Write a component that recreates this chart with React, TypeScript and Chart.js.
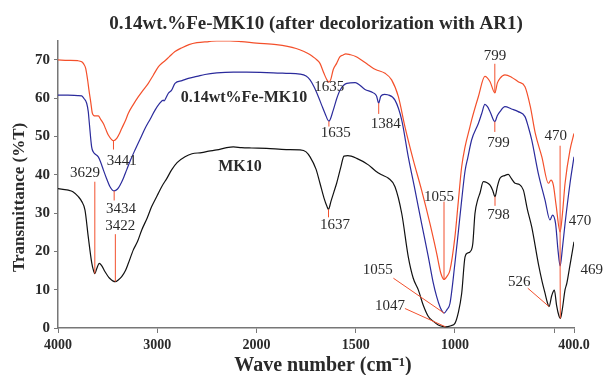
import { useEffect, useRef } from 'react';
import { Chart, registerables } from 'chart.js';

Chart.register(...registerables);

// ---- spectra: wave number (cm-1) and transmittance (%T) ----
const mk10Wn = [
  4000, 3950, 3896, 3850, 3795, 3760, 3728, 3695, 3660, 3640, 3629, 3610, 3584, 3560, 3526, 3480,
  3422, 3390, 3358, 3320, 3291, 3241, 3200, 3156, 3100, 3056, 3000, 2955, 2900, 2855, 2800, 2720,
  2650, 2552, 2480, 2400, 2300, 2233, 2150, 2050, 1949, 1850, 1781, 1750, 1730, 1700, 1680, 1660,
  1645, 1637, 1625, 1610, 1596, 1575, 1559, 1540, 1495, 1436, 1400, 1369, 1335, 1302, 1268, 1235,
  1210, 1184, 1160, 1134, 1110, 1084, 1060, 1047, 1020, 1000, 983, 966, 949, 935, 924, 910,
  899, 885, 874, 857, 840, 823, 810, 798, 786, 773, 750, 731, 715, 697, 675, 655,
  635, 613, 580, 560, 546, 535, 526, 512, 499, 488, 476, 469, 460, 445, 436, 420, 400,
];
const mk10T = [
  36.4, 36.2, 36.0, 35.6, 34.3, 33.0, 30.8, 23.8, 17.0, 14.8, 14.2, 15.5, 16.9, 16.3, 14.7, 13.0,
  12.1, 12.6, 13.4, 15.0, 16.9, 20.4, 22.5, 25.6, 28.8, 31.7, 34.6, 36.9, 39.2, 41.3, 43.2, 44.7,
  45.5, 45.8, 46.2, 46.5, 47.1, 47.3, 47.1, 47.0, 46.9, 46.6, 46.5, 46.0, 44.7, 41.5, 37.8, 34.0,
  31.8, 31.0, 33.0, 35.5, 37.8, 42.0, 44.9, 45.0, 44.3, 42.6, 41.0, 40.0, 39.1, 36.9, 29.9, 18.6,
  13.0, 9.9, 6.0, 3.0, 1.8, 0.8, 0.4, 0.3, 0.6, 1.2, 4.0, 9.0, 18.6, 19.6, 19.9, 22.0,
  29.9, 33.5, 35.2, 38.2, 38.0, 37.3, 36.0, 34.3, 37.0, 39.1, 39.8, 40.1, 39.0, 37.8, 37.5, 36.0,
  31.0, 26.4, 16.9, 12.0, 9.1, 6.8, 5.6, 8.5, 9.9, 6.0, 3.2, 2.5, 4.5, 10.0, 11.7, 16.5, 22.5,
];

const feWn = [
  4000, 3900, 3800, 3761, 3740, 3711, 3695, 3684, 3661, 3645, 3634, 3594, 3570, 3543, 3510, 3476,
  3434, 3400, 3375, 3340, 3308, 3270, 3224, 3170, 3123, 3070, 3022, 2980, 2939, 2930, 2910, 2888,
  2855, 2821, 2750, 2687, 2600, 2519, 2400, 2233, 2100, 1949, 1850, 1781, 1750, 1730, 1710, 1688,
  1670, 1655, 1635, 1613, 1595, 1579, 1545, 1503, 1453, 1411, 1395, 1384, 1374, 1355, 1339, 1302,
  1268, 1235, 1201, 1168, 1134, 1110, 1092, 1075, 1063, 1055, 1040, 1025, 1000, 983, 966, 949,
  935, 916, 882, 865, 849, 836, 823, 799, 786, 773, 748, 715, 681, 647, 630, 613,
  580, 546, 521, 508, 493, 480, 470, 458, 445, 420, 400,
];
const feT = [
  60.8, 60.8, 60.7, 60.6, 60.0, 58.7, 56.5, 53.4, 47.3, 46.0, 45.6, 44.7, 43.3, 41.3, 39.0, 36.9,
  35.8, 36.3, 37.3, 39.2, 41.3, 43.8, 46.5, 49.5, 52.1, 54.6, 56.9, 58.5, 59.5, 59.3, 60.2, 61.3,
  62.1, 63.9, 64.6, 65.2, 65.7, 66.2, 66.6, 66.8, 66.8, 66.7, 66.5, 66.3, 65.8, 64.8, 63.0, 60.4,
  58.0, 56.1, 54.0, 56.9, 60.0, 62.1, 63.9, 64.1, 62.3, 61.4, 60.6, 58.7, 60.5, 61.0, 60.9, 59.5,
  54.3, 44.7, 36.0, 27.3, 18.6, 12.0, 8.2, 5.5, 4.3, 3.9, 4.8, 6.4, 16.9, 25.0, 33.4, 41.0,
  44.5, 49.1, 53.4, 56.0, 58.4, 57.8, 56.5, 53.9, 55.5, 56.5, 57.8, 57.2, 56.5, 55.2, 52.5, 49.1,
  40.4, 33.4, 28.2, 29.5, 27.3, 20.0, 16.2, 21.0, 27.3, 37.8, 44.7,
];

const ar1Wn = [
  4000, 3900, 3800, 3761, 3740, 3721, 3700, 3688, 3670, 3654, 3640, 3627, 3594, 3570, 3543, 3520,
  3493, 3441, 3408, 3380, 3358, 3320, 3291, 3240, 3190, 3140, 3090, 3040, 2989, 2950, 2922, 2880,
  2821, 2750, 2680, 2600, 2480, 2400, 2266, 2150, 2000, 1900, 1800, 1760, 1745, 1720, 1695, 1680,
  1660, 1645, 1635, 1625, 1613, 1596, 1580, 1563, 1550, 1530, 1500, 1436, 1400, 1352, 1319, 1285,
  1252, 1210, 1168, 1126, 1092, 1071, 1055, 1040, 1025, 1000, 983, 966, 949, 924, 916, 882,
  849, 823, 799, 786, 773, 748, 715, 681, 647, 620, 595, 562, 529, 516, 504, 490,
  470, 458, 445, 420, 400,
];
const ar1T = [
  70.0, 69.9, 69.8, 69.5, 68.9, 67.8, 64.5, 62.1, 59.0, 56.1, 55.5, 55.4, 55.4, 54.5, 53.4, 52.0,
  50.4, 48.9, 49.5, 50.8, 52.1, 54.2, 56.1, 58.4, 60.4, 62.2, 63.9, 66.0, 68.2, 69.2, 69.8, 70.8,
  72.2, 73.2, 74.0, 74.5, 74.8, 75.0, 75.0, 74.8, 74.4, 74.0, 73.0, 72.2, 71.8, 71.0, 70.0, 69.1,
  66.5, 64.8, 64.2, 65.0, 67.5, 69.1, 70.8, 71.3, 71.6, 71.4, 70.9, 68.7, 67.5, 66.5, 64.8, 60.4,
  52.6, 43.9, 36.0, 27.3, 19.5, 14.3, 12.7, 13.5, 15.1, 23.8, 33.0, 42.1, 47.3, 52.6, 54.3, 60.4,
  65.7, 64.3, 61.4, 64.0, 65.2, 66.1, 65.5, 64.3, 63.0, 57.8, 50.8, 44.7, 37.8, 38.6, 37.3, 32.0,
  25.1, 30.0, 37.8, 46.5, 50.8,
];

// ---- axis ticks ----
const xTickWn = [4000, 3000, 2000, 1500, 1000, 500, 400];
const xTickText = ['4000', '3000', '2000', '1500', '1000', '', '400.0'];
const yMax = 75;
const yStep = 5;

// Wave-number axis: 4000-2000 is drawn at half the scale of 2000-400.
const toAxis = (w: number) => (w >= 2000 ? (4000 - w) / 2 : 1000 + (2000 - w));

const series: Record<string, { wn: number[]; t: number[] }> = {
  mk10: { wn: mk10Wn, t: mk10T },
  fe: { wn: feWn, t: feT },
  ar1: { wn: ar1Wn, t: ar1T },
};
const valueAt = (key: string, w: number) => {
  const s = series[key];
  return s.t[s.wn.indexOf(w)];
};

type Peak = {
  key: string;
  wn: number;
  at: [number, number]; // text centre (wave number, %T)
  from?: [number, number]; // start of leader line
  fromSeries?: [string, number]; // leader starts on another curve's band
};

// assigned bands
const peaks: Peak[] = [
  { key: 'mk10', wn: 3629, at: [3728, 40.5], from: [3629, 38.2] },
  { key: 'ar1', wn: 3441, at: [3358, 43.6], from: [3441, 46.6] },
  { key: 'fe', wn: 3434, at: [3365, 31.0], from: [3434, 33.3] },
  { key: 'mk10', wn: 3422, at: [3372, 26.7], from: [3422, 24.5] },
  { key: 'ar1', wn: 1635, at: [1633, 63.0] },
  { key: 'fe', wn: 1635, at: [1601, 50.9], from: [1635, 52.6] },
  { key: 'fe', wn: 1384, at: [1349, 53.3], from: [1384, 55.9] },
  { key: 'mk10', wn: 1637, at: [1604, 26.9], from: [1637, 28.9] },
  { key: 'ar1', wn: 1055, at: [1080, 34.3], from: [1055, 33.0] },
  { key: 'fe', wn: 1055, at: [1389, 15.2], from: [1310, 13.0] },
  { key: 'mk10', wn: 1047, at: [1327, 5.6], from: [1252, 5.1] },
  { key: 'ar1', wn: 799, at: [798, 70.9], from: [799, 69.0] },
  { key: 'fe', wn: 799, at: [781, 48.3], from: [799, 51.2] },
  { key: 'mk10', wn: 798, at: [781, 29.4], from: [798, 31.9] },
  { key: 'ar1', wn: 470, at: [492, 50.0], from: [470, 47.6] },
  { key: 'fe', wn: 470, at: [370, 27.8], fromSeries: ['ar1', 470] },
  { key: 'mk10', wn: 469, at: [311, 15.2], fromSeries: ['fe', 470] },
  { key: 'mk10', wn: 526, at: [676, 12.1], from: [633, 10.4] },
];

const seriesNames = [
  { text: '0.14wt%Fe-MK10', at: [2126, 60.1] as [number, number] },
  { text: 'MK10', at: [2166, 42.1] as [number, number] },
];

const SERIF = '"Liberation Serif", "Times New Roman", serif';
const LEADER = '#f2512e';
const INK = '#2a2a2a';
const X_TITLE = 'Wave number (cm\u207B\u00B9)';
const Y_TITLE = 'Transmittance (%T)';

const peakLabels = {
  id: 'peakLabels',
  afterDatasetsDraw(chart: Chart) {
    const { ctx } = chart;
    const xs = chart.scales.x;
    const ys = chart.scales.y;
    const px = (w: number) => xs.getPixelForValue(toAxis(w));
    const py = (t: number) => ys.getPixelForValue(t);
    ctx.save();
    ctx.strokeStyle = LEADER;
    ctx.lineWidth = 1;
    for (const p of peaks) {
      let start: [number, number] | null = null;
      if (p.from) start = [px(p.from[0]), py(p.from[1])];
      else if (p.fromSeries) {
        const [k, w] = p.fromSeries;
        start = [px(w), py(valueAt(k, w))];
      }
      if (!start) continue;
      ctx.beginPath();
      ctx.moveTo(start[0], start[1]);
      ctx.lineTo(px(p.wn), py(valueAt(p.key, p.wn)));
      ctx.stroke();
    }
    ctx.fillStyle = INK;
    ctx.textAlign = 'center';
    ctx.textBaseline = 'middle';
    ctx.font = `15px ${SERIF}`;
    for (const p of peaks) ctx.fillText(String(p.wn), px(p.at[0]), py(p.at[1]));
    ctx.font = `bold 16px ${SERIF}`;
    for (const s of seriesNames) ctx.fillText(s.text, px(s.at[0]), py(s.at[1]));

    // axis titles
    const area = chart.chartArea;
    ctx.font = `bold 20px ${SERIF}`;
    ctx.fillText(X_TITLE, (area.left + area.right) / 2 + 7, 366);
    ctx.translate(20, (area.top + area.bottom) / 2 + 13);
    ctx.rotate(-Math.PI / 2);
    ctx.font = `bold 17px ${SERIF}`;
    ctx.fillText(Y_TITLE, 0, 0);
    ctx.restore();
  },
};

const toPoints = (wn: number[], t: number[]) => wn.map((w, i) => ({ x: toAxis(w), y: t[i] }));

export default function App() {
  const ref = useRef<HTMLCanvasElement>(null);

  useEffect(() => {
    if (!ref.current) return;
    const line = (data: { x: number; y: number }[], color: string) => ({
      data,
      borderColor: color,
      borderWidth: 1.2,
      pointRadius: 0,
      showLine: true,
      cubicInterpolationMode: 'monotone' as const,
    });
    const chart = new Chart(ref.current, {
      type: 'scatter',
      data: {
        datasets: [
          line(toPoints(ar1Wn, ar1T), '#f4502b'),
          line(toPoints(feWn, feT), '#2b2b9c'),
          line(toPoints(mk10Wn, mk10T), '#111111'),
        ],
      },
      options: {
        animation: false,
        responsive: true,
        maintainAspectRatio: false,
        layout: { padding: { left: 0, right: 31, top: 0, bottom: 0 } },
        plugins: {
          legend: { display: false },
          tooltip: { enabled: false },
          title: {
            display: true,
            text: '0.14wt.%Fe-MK10 (after decolorization with AR1)',
            fullSize: false,
            color: INK,
            font: { family: SERIF, size: 19, weight: 'bold', lineHeight: 1.2 },
            padding: { top: 13, bottom: 5 },
          },
        },
        scales: {
          x: {
            type: 'linear',
            min: 0,
            max: toAxis(400),
            afterBuildTicks: (s: any) => {
              s.ticks = xTickWn.map((w) => ({ value: toAxis(w) }));
            },
            afterFit: (s: any) => {
              s.height = 47;
            },
            ticks: {
              autoSkip: false,
              maxRotation: 0,
              padding: 4,
              color: INK,
              font: { family: SERIF, size: 14, weight: 'bold' },
              callback: (_v: any, i: number) => xTickText[i],
            },
            grid: { drawOnChartArea: false, drawTicks: true, tickLength: 5, color: '#777' },
            border: { color: '#777', width: 1.5 },
          },
          y: {
            type: 'linear',
            min: 0,
            max: yMax,
            afterFit: (s: any) => {
              s.width = 58;
            },
            ticks: {
              stepSize: yStep,
              padding: 4,
              color: INK,
              font: { family: SERIF, size: 15, weight: 'bold' },
              callback: (v: any) => (Number(v) % 10 === 0 ? String(v) : ''),
            },
            grid: { drawOnChartArea: false, drawTicks: true, tickLength: 4, color: '#777' },
            border: { color: '#777', width: 1.5 },
          },
        },
      },
      plugins: [peakLabels],
    });
    return () => chart.destroy();
  }, []);

  return (
    <div style={{ position: 'fixed', left: 0, top: 0, width: 605, height: 375, background: '#fff' }}>
      <canvas ref={ref} />
    </div>
  );
}
